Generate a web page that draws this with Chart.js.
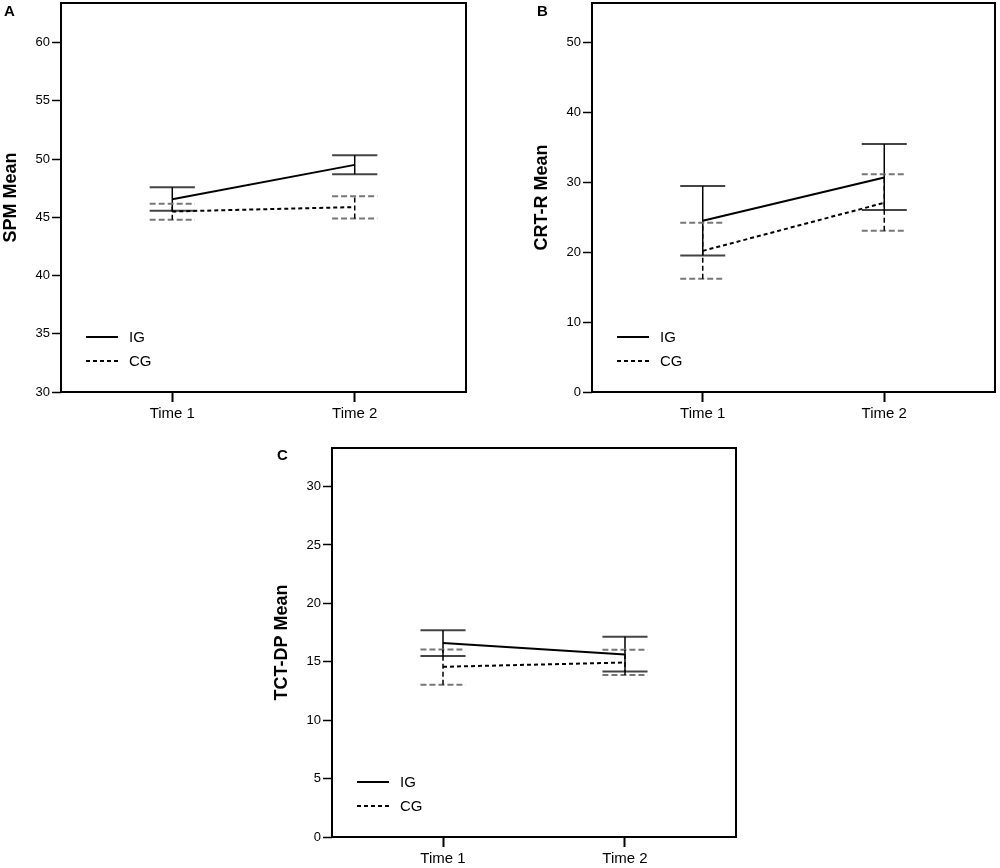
<!DOCTYPE html>
<html lang="en">
<head>
<meta charset="UTF-8">
<title>SPM, CRT-R and TCT-DP means</title>
<script src="https://cdn.jsdelivr.net/npm/chart.js"></script>
<style>
    body {
        margin: 0;
        background: #fff;
        width: 1000px;
        height: 868px;
        position: relative;
        overflow: hidden;
    }
    canvas { position: absolute; }
    #chartA { left: 0; top: 0; }
    #chartB { left: 520px; top: 0; }
    #chartC { left: 260px; top: 420px; }
</style>
</head>
<body>
<canvas id="chartA" width="480" height="425"></canvas>
<canvas id="chartB" width="480" height="425"></canvas>
<canvas id="chartC" width="500" height="448"></canvas>

<script>
// shared categories
const timeLabels = ['Time 1', 'Time 2'];
const timePoints = [1, 2];
const groupLabels = ['IG', 'CG'];

// A - SPM
const spmTicks = [30, 35, 40, 45, 50, 55, 60];
const spmIG = [46.55, 49.5];
const spmIGLow = [45.57, 48.69];
const spmIGHigh = [47.57, 50.32];
const spmCG = [45.5, 45.88];
const spmCGLow = [44.8, 44.9];
const spmCGHigh = [46.17, 46.8];

// B - CRT-R
const crtTicks = [0, 10, 20, 30, 40, 50];
const crtIG = [24.47, 30.67];
const crtIGLow = [19.5, 26.0];
const crtIGHigh = [29.43, 35.44];
const crtCG = [20.17, 27.04];
const crtCGLow = [16.17, 23.04];
const crtCGHigh = [24.18, 31.14];

// C - TCT-DP
const tctTicks = [0, 5, 10, 15, 20, 25, 30];
const tctIG = [16.6, 15.63];
const tctIGLow = [15.49, 14.17];
const tctIGHigh = [17.69, 17.15];
const tctCG = [14.57, 14.94];
const tctCGLow = [13.03, 13.86];
const tctCGHigh = [16.06, 16.03];

const FONT = "'Liberation Sans', Arial, sans-serif";
const IG_DASH = [];
const CG_DASH = [4, 3];
const CAP_HALF = 0.124; // in x units

const toPoints = vals => vals.map((v, i) => ({ x: timePoints[i], y: v }));

// frame, error bars, legend and panel letter
const panelDecor = {
    id: 'panelDecor',
    beforeDatasetsDraw(chart, args, opts) {
        const ctx = chart.ctx;
        const xs = chart.scales.x, ys = chart.scales.y;
        ctx.save();
        opts.bars.forEach(b => {
            timePoints.forEach((t, i) => {
                const px = xs.getPixelForValue(t);
                const pl = xs.getPixelForValue(t - CAP_HALF);
                const pr = xs.getPixelForValue(t + CAP_HALF);
                const yLo = ys.getPixelForValue(b.low[i]);
                const yHi = ys.getPixelForValue(b.high[i]);
                // caps
                ctx.strokeStyle = b.capColor;
                ctx.lineWidth = 2;
                ctx.setLineDash(b.capDash);
                [yLo, yHi].forEach(y => {
                    ctx.beginPath();
                    ctx.moveTo(pl, y);
                    ctx.lineTo(pr, y);
                    ctx.stroke();
                });
                // whisker
                ctx.strokeStyle = '#000';
                ctx.lineWidth = 1.5;
                ctx.setLineDash(b.dash);
                ctx.beginPath();
                ctx.moveTo(px, yLo);
                ctx.lineTo(px, yHi);
                ctx.stroke();
            });
        });
        ctx.restore();
    },
    afterDraw(chart, args, opts) {
        const ctx = chart.ctx;
        const a = chart.chartArea;
        ctx.save();
        // frame
        ctx.strokeStyle = '#000';
        ctx.lineWidth = 2;
        ctx.setLineDash([]);
        ctx.strokeRect(a.left, a.top, a.right - a.left, a.bottom - a.top);
        // legend
        const rows = [a.bottom - 55, a.bottom - 31];
        chart.data.datasets.forEach((ds, i) => {
            ctx.strokeStyle = '#000';
            ctx.lineWidth = 2;
            ctx.setLineDash(ds.borderDash || []);
            ctx.beginPath();
            ctx.moveTo(a.left + 25, rows[i]);
            ctx.lineTo(a.left + 57, rows[i]);
            ctx.stroke();
            ctx.setLineDash([]);
            ctx.fillStyle = '#000';
            ctx.font = '15px ' + FONT;
            ctx.textBaseline = 'middle';
            ctx.textAlign = 'left';
            ctx.fillText(ds.label, a.left + 68, rows[i] + 1);
        });
        // panel letter
        ctx.font = 'bold 15px ' + FONT;
        ctx.textBaseline = 'alphabetic';
        ctx.fillText(opts.letter, opts.letterX, opts.letterY);
        ctx.restore();
    }
};

function makePanel(id, cfg) {
    return new Chart(document.getElementById(id), {
        type: 'line',
        data: {
            datasets: [
                {
                    label: groupLabels[0],
                    data: toPoints(cfg.ig),
                    borderColor: '#000',
                    borderWidth: 2,
                    borderDash: IG_DASH,
                    pointRadius: 0,
                    fill: false
                },
                {
                    label: groupLabels[1],
                    data: toPoints(cfg.cg),
                    borderColor: '#000',
                    borderWidth: 2,
                    borderDash: CG_DASH,
                    pointRadius: 0,
                    fill: false
                }
            ]
        },
        options: {
            responsive: false,
            animation: false,
            layout: { padding: cfg.padding },
            plugins: {
                legend: { display: false },
                tooltip: { enabled: false },
                panelDecor: {
                    letter: cfg.letter,
                    letterX: cfg.letterX,
                    letterY: cfg.letterY,
                    bars: [
                        { low: cfg.igLow, high: cfg.igHigh, dash: [], capDash: [], capColor: '#444' },
                        { low: cfg.cgLow, high: cfg.cgHigh, dash: [5, 3], capDash: [6, 3], capColor: '#777' }
                    ]
                }
            },
            scales: {
                x: {
                    type: 'linear',
                    min: 0.39,
                    max: 2.61,
                    afterBuildTicks: s => { s.ticks = timePoints.map(v => ({ value: v })); },
                    afterFit: s => { s.height = cfg.xHeight; s.paddingLeft = 0; s.paddingRight = 0; },
                    ticks: {
                        callback: (v, i) => timeLabels[i],
                        autoSkip: false,
                        maxRotation: 0,
                        color: '#000',
                        padding: 3,
                        font: { family: FONT, size: 15 }
                    },
                    grid: {
                        drawOnChartArea: false,
                        drawTicks: true,
                        tickLength: 10,
                        tickWidth: 2,
                        tickColor: '#000'
                    },
                    border: { display: false }
                },
                y: {
                    min: cfg.yMin,
                    max: cfg.yMax,
                    afterBuildTicks: s => { s.ticks = cfg.ticks.map(v => ({ value: v })); },
                    afterFit: s => { s.width = cfg.yWidth; s.paddingTop = 0; s.paddingBottom = 0; },
                    ticks: {
                        color: '#000',
                        padding: 2,
                        font: { family: FONT, size: 13 }
                    },
                    grid: {
                        drawOnChartArea: false,
                        drawTicks: true,
                        tickLength: 9,
                        tickWidth: 1.5,
                        tickColor: '#000'
                    },
                    border: { display: false },
                    title: {
                        display: true,
                        text: cfg.title,
                        color: '#000',
                        padding: { top: cfg.titlePad, bottom: 0 },
                        font: { family: FONT, size: 18, weight: 'bold' }
                    }
                }
            }
        },
        plugins: [panelDecor]
    });
}

makePanel('chartA', {
    ig: spmIG, igLow: spmIGLow, igHigh: spmIGHigh,
    cg: spmCG, cgLow: spmCGLow, cgHigh: spmCGHigh,
    ticks: spmTicks, yMin: 30, yMax: 63.4, title: 'SPM Mean',
    letter: 'A', letterX: 4, letterY: 16, titlePad: 0,
    padding: { left: 0, top: 3, right: 14, bottom: 0 }, yWidth: 61, xHeight: 33
});

makePanel('chartB', {
    ig: crtIG, igLow: crtIGLow, igHigh: crtIGHigh,
    cg: crtCG, cgLow: crtCGLow, cgHigh: crtCGHigh,
    ticks: crtTicks, yMin: 0, yMax: 55.6, title: 'CRT-R Mean',
    letter: 'B', letterX: 17, letterY: 16, titlePad: 11,
    padding: { left: 0, top: 3, right: 5, bottom: 0 }, yWidth: 72, xHeight: 33
});

makePanel('chartC', {
    ig: tctIG, igLow: tctIGLow, igHigh: tctIGHigh,
    cg: tctCG, cgLow: tctCGLow, cgHigh: tctCGHigh,
    ticks: tctTicks, yMin: 0, yMax: 33.3, title: 'TCT-DP Mean',
    letter: 'C', letterX: 17, letterY: 40, titlePad: 11,
    padding: { left: 0, top: 28, right: 24, bottom: 0 }, yWidth: 72, xHeight: 31
});
</script>
</body>
</html>
